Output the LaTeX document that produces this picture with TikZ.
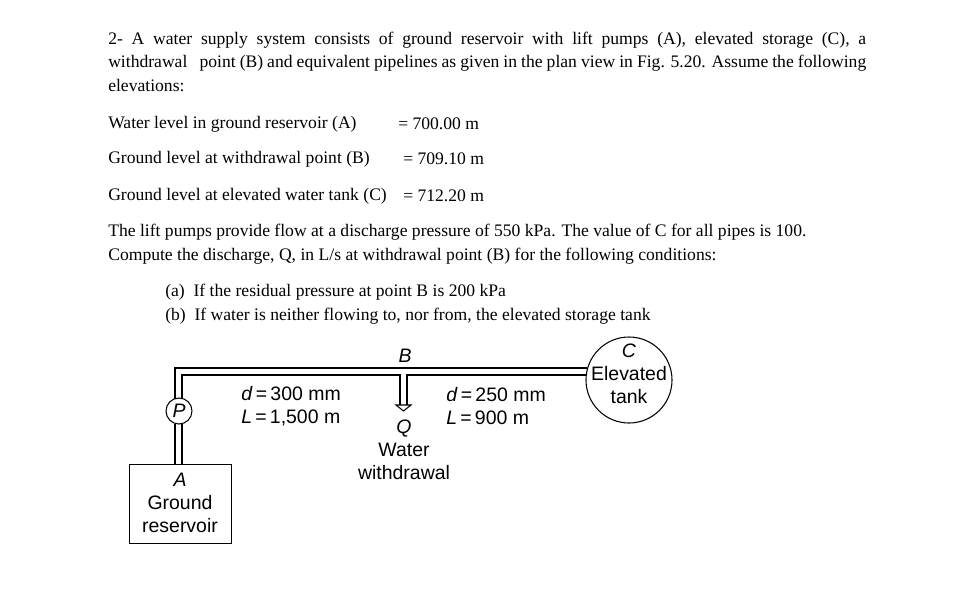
\documentclass[tikz,border=0pt]{standalone}
\usepackage{fontspec}
\setmainfont{Liberation Serif}
\newfontfamily\dsans{Liberation Sans}
\begin{document}
\begin{tikzpicture}[x=0.75pt,y=-0.75pt,
  txt/.style={anchor=west,inner sep=0pt,font=\fontsize{13.2pt}{15pt}\selectfont},
  lab/.style={inner sep=0pt,font=\dsans\fontsize{14.6pt}{17.25pt}\selectfont,align=center},
  pipe/.style={line width=0.8pt}]
\useasboundingbox (0,0) rectangle (960,615);
\node[txt] (l1) at (108,40) {\makebox[568.5pt][s]{2- A water supply system consists of ground reservoir with lift pumps (A), elevated storage (C), a}};
\node[txt] (l2) at (108,63) {\makebox[568.5pt][s]{withdrawal\ \ \ point (B) and equivalent pipelines as given in the plan view in Fig. 5.20. Assume the following}};
\node[txt] (l3) at (108,86) {elevations:};
\node[txt] (e1) at (108,124) {Water level in ground reservoir (A)};
\node[txt] (e1v) at (398,124) {= 700.00 m};
\node[txt] (e2) at (108,159) {Ground level at withdrawal point (B)};
\node[txt] (e2v) at (403,159) {= 709.10 m};
\node[txt] (e3) at (108,196) {Ground level at elevated water tank (C)};
\node[txt] (e3v) at (403,196) {= 712.20 m};
\node[txt] (p1) at (108,232) {The lift pumps provide flow at a discharge pressure of 550 kPa. The value of C for all pipes is 100.};
\node[txt] (p2) at (108,256) {Compute the discharge, Q, in L/s at withdrawal point (B) for the following conditions:};
\node[txt] (qa) at (165,292) {(a)\ \ If the residual pressure at point B is 200 kPa};
\node[txt] (qb) at (165,316) {(b)\ \ If water is neither flowing to, nor from, the elevated storage tank};
% diagram
\node[draw,pipe,minimum width=76.5pt,minimum height=59.25pt,inner sep=0pt,anchor=north west] (res) at (129,464) {};
\node[lab] (rest) at (180,503) {\textit{A}\\Ground\\reservoir};
\node[draw,pipe,circle,minimum size=19.5pt,inner sep=0pt,lab] (P) at (179,411) {\textit{P}};
\node[draw,pipe,circle,minimum size=64.5pt,inner sep=0pt] (C) at (629,380) {};
\node[lab] (Ct) at (629,374) {\textit{C}\\Elevated\\tank};
\coordinate (ctop) at (587,368);
\coordinate (cbot) at (587,375);
\draw[pipe] (175,398.5) -- (175,368) -- (ctop);
\draw[pipe] (182,398.5) -- (182,375) -- (400,375) -- (400,405);
\draw[pipe] (cbot) -- (407,375) -- (407,405);
\draw[pipe] (396,405) -- (411,405) -- (403.5,411) -- cycle;
\draw[pipe] (175,423.5) -- (175,464);
\draw[pipe] (182,423.5) -- (182,464);
\node[lab] (B) at (405,356) {\textit{B}};
\node[lab] (Q) at (404,450) {\textit{Q}\\Water\\withdrawal};
\node[lab,align=left,anchor=west] (d1) at (241,406) {\textit{d}\,=\,300 mm\\\textit{L}\,=\,1,500 m};
\node[lab,align=left,anchor=west] (d2) at (446,406) {\textit{d}\,=\,250 mm\\\textit{L}\,=\,900 m};
\end{tikzpicture}
\end{document}
